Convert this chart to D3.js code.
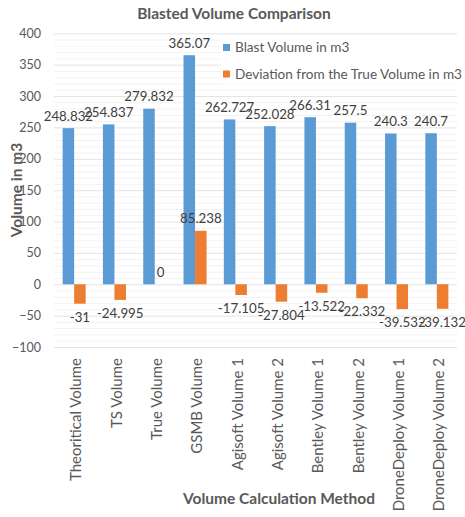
<!DOCTYPE html>
<html>
<head>
<meta charset="utf-8">
<script src="https://cdn.jsdelivr.net/npm/d3@7"></script>
<style>
  body { margin: 0; background: #fff; }
  svg { display: block; font-family: Lato, "Open Sans", sans-serif; }
</style>
</head>
<body>
<svg id="chart" width="465" height="517"></svg>
<script>
const categories = [
  "Theoritical Volume", "TS Volume", "True Volume", "GSMB Volume",
  "Agisoft Volume 1", "Agisoft Volume 2", "Bentley Volume 1", "Bentley Volume 2",
  "DroneDeploy Volume 1", "DroneDeploy Volume 2"
];
const blastVolume = [248.832, 254.837, 279.832, 365.07, 262.727, 252.028, 266.31, 257.5, 240.3, 240.7];
const deviation = [-31, -24.995, 0, 85.238, -17.105, -27.804, -13.522, -22.332, -39.532, -39.132];
const seriesNames = ["Blast Volume in m3", "Deviation from the True Volume in m3"];
const yTicks = [-100, -50, 0, 50, 100, 150, 200, 250, 300, 350, 400];

const colors = ["#5B9BD5", "#ED7D31"];
const svg = d3.select("#chart");

const plot = { left: 54, right: 457, top: 33.3, bottom: 347 };

const x = d3.scaleBand().domain(categories).range([plot.left, plot.right]).padding(0);
const y = d3.scaleLinear().domain([-100, 400]).range([plot.bottom, plot.top]);
const barW = x.bandwidth() / 3.5;

// minor gridlines every 10
const minor = d3.range(-100, 401, 10).filter((v) => v % 50 !== 0);
svg.append("g").selectAll("line").data(minor).join("line")
  .attr("x1", plot.left).attr("x2", plot.right)
  .attr("y1", (d) => y(d) + 0.5).attr("y2", (d) => y(d) + 0.5)
  .attr("stroke", "#F2F2F2").attr("stroke-width", 1);

svg.append("g").selectAll("line").data(yTicks).join("line")
  .attr("x1", plot.left).attr("x2", plot.right)
  .attr("y1", (d) => y(d) + 0.5).attr("y2", (d) => y(d) + 0.5)
  .attr("stroke", "#E3E3E3").attr("stroke-width", 1);

// y axis labels
const yAxis = d3.axisLeft(y).tickValues(yTicks).tickSize(0).tickPadding(0);
svg.append("g").attr("transform", `translate(41,0)`).call(yAxis)
  .call((g) => g.select(".domain").remove())
  .call((g) => g.selectAll("text").attr("fill", "#595959").attr("font-size", 12.5)
    .attr("font-family", "Lato, sans-serif"));

// bars
const series = [blastVolume, deviation];
series.forEach((vals, s) => {
  svg.append("g").selectAll("rect").data(vals).join("rect")
    .attr("x", (d, i) => x(categories[i]) + x.bandwidth() / 2 - barW + s * barW)
    .attr("width", barW)
    .attr("y", (d) => y(Math.max(0, d)))
    .attr("height", (d) => Math.abs(y(d) - y(0)))
    .attr("fill", colors[s]);

  svg.append("g").selectAll("text").data(vals).join("text")
    .attr("x", (d, i) => x(categories[i]) + x.bandwidth() / 2 - barW / 2 + s * barW)
    .attr("y", (d) => d >= 0 ? y(d) - 7.5 : y(d) + 18)
    .attr("text-anchor", "middle")
    .attr("font-size", 13.3)
    .attr("fill", "#404040")
    .text((d) => d);
});

// x labels (rotated)
svg.append("g").selectAll("text").data(categories).join("text")
  .attr("transform", (d) => `translate(${x(d) + x.bandwidth() / 2 + 2},358) rotate(-90)`)
  .attr("text-anchor", "end")
  .attr("dy", "0.35em")
  .attr("font-size", 15)
  .attr("fill", "#595959")
  .text((d) => d);

// titles
svg.append("text").attr("x", 234).attr("y", 19).attr("text-anchor", "middle")
  .attr("font-size", 15.5).attr("font-weight", "bold").attr("fill", "#595959")
  .text("Blasted Volume Comparison");

svg.append("text").attr("x", 279).attr("y", 504).attr("text-anchor", "middle")
  .attr("font-size", 15.5).attr("font-weight", "bold").attr("fill", "#595959")
  .text("Volume Calculation Method");

svg.append("text").attr("transform", "translate(22,190) rotate(-90)").attr("text-anchor", "middle")
  .attr("font-size", 15.5).attr("font-weight", "bold").attr("fill", "#595959")
  .text("Volume in m3");

// legend
const legend = svg.append("g").attr("transform", "translate(223,0)");
const legendY = [47.5, 74];
legend.append("rect").attr("x", -2).attr("y", 38).attr("width", 242).attr("height", 46).attr("fill", "#fff");
seriesNames.forEach((name, i) => {
  legend.append("rect").attr("x", 0).attr("y", legendY[i] - 3.5).attr("width", 7).attr("height", 7)
    .attr("fill", colors[i]);
  legend.append("text").attr("x", 12).attr("y", legendY[i]).attr("dy", "0.35em")
    .attr("font-size", 13.6).attr("fill", "#595959").text(name);
});
</script>
</body>
</html>
